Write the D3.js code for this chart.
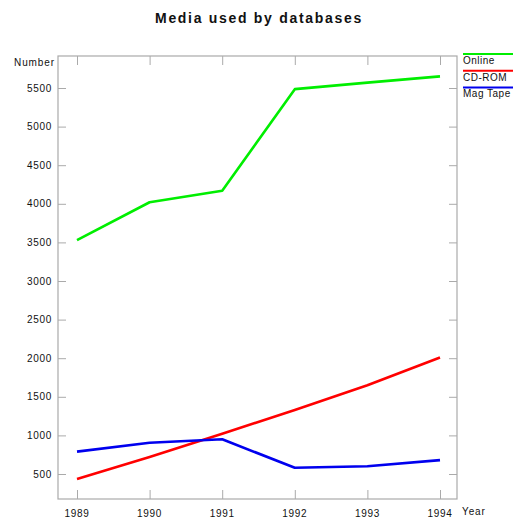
<!DOCTYPE html>
<html lang="en">
<head>
<meta charset="UTF-8">
<title>Media used by databases</title>
<script src="https://d3js.org/d3.v7.min.js"></script>
<style>
  body { margin: 0; background: #fff; font-family: "Liberation Sans", Arial, sans-serif; }
</style>
</head>
<body>
<svg id="chart" width="515" height="517"></svg>
<script>
const years = [1989, 1990, 1991, 1992, 1993, 1994];
const online = [3530, 4020, 4170, 5485, 5570, 5650];
const cdrom = [435, 720, 1020, 1330, 1650, 2010];
const magTape = [790, 905, 950, 580, 600, 680];
const yTicks = [500, 1000, 1500, 2000, 2500, 3000, 3500, 4000, 4500, 5000, 5500];

const series = [
  { name: "Online", values: online, color: "#00ee00" },
  { name: "CD-ROM", values: cdrom, color: "#ff0000" },
  { name: "Mag Tape", values: magTape, color: "#0000ee" }
];

const plotLeft = 58, plotRight = 457, plotTop = 56, plotBottom = 499;
const svg = d3.select("#chart");

const x = d3.scaleLinear().domain([1989, 1994]).range([77, 440]);
// 500 -> 474, 5500 -> 88
const y = d3.scaleLinear().domain([500, 5500]).range([474, 88]);

const axisColor = "#aaa";

// frame
svg.append("rect")
  .attr("x", plotLeft).attr("y", plotTop)
  .attr("width", plotRight - plotLeft).attr("height", plotBottom - plotTop)
  .attr("fill", "none").attr("stroke", axisColor).attr("stroke-width", 1.2);

// y axis left, ticks inward
const yAxis = svg.append("g")
  .attr("transform", `translate(${plotLeft},0)`)
  .call(d3.axisRight(y).tickValues(yTicks).tickSize(8).tickFormat(""));
yAxis.select(".domain").remove();
yAxis.selectAll("line").attr("stroke", axisColor);
svg.append("g").selectAll("text").data(yTicks).join("text")
  .attr("x", 52).attr("y", d => y(d)).attr("dy", "0.35em")
  .attr("text-anchor", "end").attr("font-size", 10).attr("fill", "#111")
  .attr("letter-spacing", "0.7px")
  .text(d => d);

// y axis right, ticks inward
const yAxisR = svg.append("g")
  .attr("transform", `translate(${plotRight},0)`)
  .call(d3.axisLeft(y).tickValues(yTicks).tickSize(8).tickFormat(""));
yAxisR.select(".domain").remove();
yAxisR.selectAll("line").attr("stroke", axisColor);

// x axis bottom, ticks inward
const xAxis = svg.append("g")
  .attr("transform", `translate(0,${plotBottom})`)
  .call(d3.axisTop(x).tickValues(years).tickSize(9).tickFormat(""));
xAxis.select(".domain").remove();
xAxis.selectAll("line").attr("stroke", axisColor);
svg.append("g").selectAll("text").data(years).join("text")
  .attr("x", d => x(d)).attr("y", 513).attr("dy", "0.35em")
  .attr("text-anchor", "middle").attr("font-size", 10).attr("fill", "#111")
  .attr("letter-spacing", "0.7px")
  .text(d => d);

// x axis top, ticks inward
const xAxisT = svg.append("g")
  .attr("transform", `translate(0,${plotTop})`)
  .call(d3.axisBottom(x).tickValues(years).tickSize(9).tickFormat(""));
xAxisT.select(".domain").remove();
xAxisT.selectAll("line").attr("stroke", axisColor);

// axis titles
svg.append("text").attr("x", 55).attr("y", 62).attr("dy", "0.35em")
  .attr("text-anchor", "end").attr("font-size", 10).attr("fill", "#111")
  .attr("letter-spacing", "0.9px").text("Number");
svg.append("text").attr("x", 462).attr("y", 511).attr("dy", "0.35em")
  .attr("font-size", 10).attr("fill", "#111").attr("letter-spacing", "0.9px").text("Year");

// title
svg.append("text").attr("x", 259).attr("y", 18).attr("dy", "0.35em")
  .attr("text-anchor", "middle").attr("font-size", 14).attr("font-weight", "bold")
  .attr("letter-spacing", "1.7px").attr("fill", "#111").text("Media used by databases");

// lines
const line = d3.line().x((d, i) => x(years[i])).y(d => y(d));
svg.append("g").selectAll("path").data(series).join("path")
  .attr("d", d => line(d.values))
  .attr("fill", "none").attr("stroke", d => d.color)
  .attr("stroke-width", 2.6).attr("stroke-linejoin", "round");

// legend
const leg = svg.append("g").selectAll("g").data(series).join("g")
  .attr("transform", (d, i) => `translate(463,${54 + i * 16.7})`);
leg.append("line").attr("x1", 0).attr("x2", 50).attr("y1", 0).attr("y2", 0)
  .attr("stroke", d => d.color).attr("stroke-width", 2);
leg.append("text").attr("x", 0).attr("y", 6.5).attr("dy", "0.35em")
  .attr("font-size", 10).attr("fill", "#111").attr("letter-spacing", "0.5px")
  .text(d => d.name);
</script>
</body>
</html>
